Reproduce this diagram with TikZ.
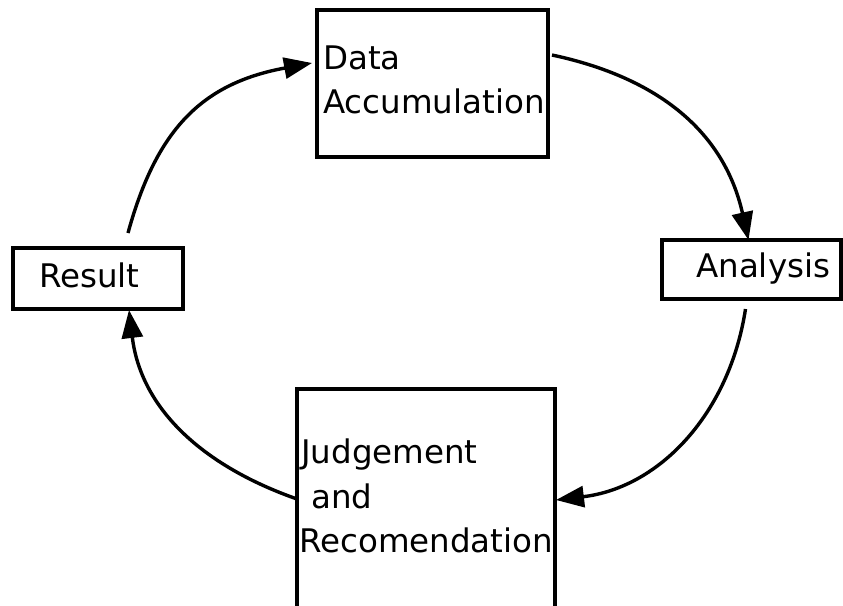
\documentclass[tikz,border=0pt]{standalone}
\usepackage{fontspec}
\setmainfont{DejaVu Sans}
\usetikzlibrary{arrows.meta,calc}

\begin{document}
\begin{tikzpicture}[x=1pt,y=-1pt,
  box/.style={draw,line width=3.2pt,outer sep=0pt,inner sep=0pt,rectangle},
  label/.style={anchor=base west,inner sep=0pt,font=\fontsize{32.5}{44}\selectfont},
  flow/.style={line width=3.4pt,-{Triangle[length=28pt,width=21pt]}}]

  % canvas
  \fill[white] (0,0) rectangle (843,605);
  \useasboundingbox (0,0) rectangle (843,605);

  % boxes
  \node[box,minimum width=231pt,minimum height=147pt] (data) at (432.5,83.5) {};
  \node[box,minimum width=179pt,minimum height=59pt]  (ana)  at (751.5,269.5) {};
  \node[box,minimum width=170pt,minimum height=61pt]  (res)  at (98,278.5) {};
  \node[box,minimum width=258pt,minimum height=231pt] (judg) at (426,504.5) {};

  % box texts
  \node[label] (t1) at (323,69)  {Data};
  \node[label] (t2) at (323,113) {Accumulation};
  \node[label] (t3) at (696,277) {Analysis};
  \node[label] (t4) at (39,287)  {Result};
  \node[label] (t5) at (301,463) {Judgement};
  \node[label] (t6) at (311,508) {and};
  \node[label] (t7) at (299,552) {Recomendation};

  % cycle of arrows
  \draw[flow] ($(res.north)+(30,-15)$)
      .. controls +(29,-106) and +(-108,20) .. ($(data.west)+(-5,-20.5)$);
  \draw[flow] ($(data.east)+(4,-28.5)$)
      .. controls +(108,23) and +(-24,-107) .. ($(ana.north)+(-3,0)$);
  \draw[flow] ($(ana.south)+(-6,10)$)
      .. controls +(-16,104) and +(104,-12.5) .. ($(judg.east)+(1,-4.5)$);
  \draw[flow] ($(judg.west)+(0,-5.5)$)
      .. controls +(-94,-33) and +(12,99) .. ($(res.south)+(31,1)$);
\end{tikzpicture}
\end{document}
